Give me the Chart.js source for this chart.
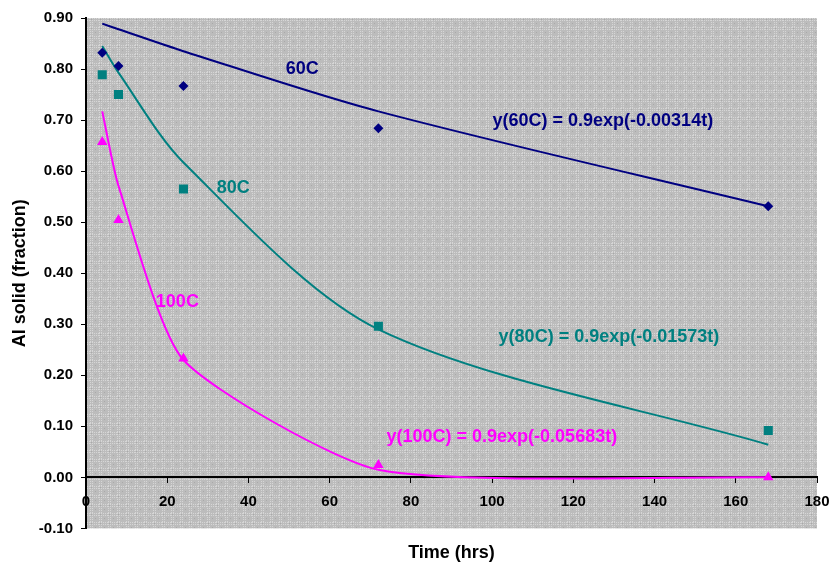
<!DOCTYPE html>
<html>
<head>
<meta charset="utf-8">
<script src="https://cdn.jsdelivr.net/npm/chart.js@4.4.1/dist/chart.umd.min.js"></script>
<style>
  body { margin: 0; background: #fff; }
  #wrap { width: 831px; height: 566px; }
</style>
</head>
<body>
<div id="wrap"><canvas id="alChart"></canvas></div>
<script>
// sampling times (hrs)
var hours = [4, 8, 24, 72, 168];

// measured Al solid fraction
var al60 = [0.832, 0.806, 0.767, 0.684, 0.531];
var al80 = [0.789, 0.750, 0.565, 0.296, 0.092];
var al100 = [0.657, 0.504, 0.233, 0.024, 0.000];

// fitted curves at the same times
var fit60 = [0.889, 0.878, 0.835, 0.717, 0.531];
var fit80 = [0.845, 0.793, 0.617, 0.290, 0.064];
var fit100 = [0.717, 0.571, 0.230, 0.015, 0.000];

var xTicks = [0, 20, 40, 60, 80, 100, 120, 140, 160, 180];
var yTicks = [-0.10, 0.00, 0.10, 0.20, 0.30, 0.40, 0.50, 0.60, 0.70, 0.80, 0.90];

var NAVY = '#000080', TEAL = '#008080', PINK = '#ff00ff';
var FONT = "'Liberation Sans', Arial, sans-serif";

function pts(ys) {
  return hours.map(function (h, i) { return { x: h, y: ys[i] }; });
}

// text labels on the plot, placed in data units
var notes = [
  { text: '60C', x: 49.2, y: 0.800, color: NAVY },
  { text: '80C', x: 32.2, y: 0.567, color: TEAL },
  { text: '100C', x: 17.2, y: 0.343, color: PINK },
  { text: 'y(60C) = 0.9exp(-0.00314t)', x: 100.1, y: 0.699, color: NAVY },
  { text: 'y(80C) = 0.9exp(-0.01573t)', x: 101.6, y: 0.275, color: TEAL },
  { text: 'y(100C) = 0.9exp(-0.05683t)', x: 74.0, y: 0.079, color: PINK }
];

// grey hatched plot area like the old Excel default
function makePattern(ctx) {
  var c = document.createElement('canvas');
  c.width = 9; c.height = 9;
  var p = c.getContext('2d');
  p.fillStyle = '#bcbcbc';
  p.fillRect(0, 0, 9, 9);
  p.fillStyle = '#d6d6d6';
  for (var i = 0; i < 9; i += 2) {
    p.fillRect(i, 0, 1, 1); p.fillRect(i, 2, 1, 1);
    p.fillRect(0, i, 1, 1); p.fillRect(2, i, 1, 1);
  }
  p.fillStyle = '#a9a9a9';
  p.fillRect(1, 1, 1, 1);
  p.fillRect(5, 5, 1, 1);
  return ctx.createPattern(c, 'repeat');
}

var plotBg = {
  id: 'plotBg',
  beforeDraw: function (chart) {
    var a = chart.chartArea, ctx = chart.ctx;
    ctx.save();
    ctx.fillStyle = makePattern(ctx);
    ctx.fillRect(a.left, a.top, a.right - a.left, a.bottom - a.top);
    ctx.restore();
  }
};

var plotNotes = {
  id: 'plotNotes',
  afterDatasetsDraw: function (chart) {
    var ctx = chart.ctx, sx = chart.scales.x, sy = chart.scales.y;
    ctx.save();
    ctx.font = 'bold 18px ' + FONT;
    ctx.textAlign = 'left';
    ctx.textBaseline = 'middle';
    notes.forEach(function (n) {
      ctx.fillStyle = n.color;
      ctx.fillText(n.text, sx.getPixelForValue(n.x), sy.getPixelForValue(n.y));
    });
    ctx.restore();
  }
};

var ctx = document.getElementById('alChart').getContext('2d');
var chart = new Chart(ctx, {
  type: 'scatter',
  data: {
    datasets: [
      { label: '60C', data: pts(al60), pointStyle: 'rectRot', pointRadius: 5,
        backgroundColor: NAVY, borderColor: NAVY, pointBorderWidth: 0 },
      { label: '80C', data: pts(al80), pointStyle: 'rect', pointRadius: 6.4,
        backgroundColor: TEAL, borderColor: TEAL, pointBorderWidth: 0 },
      { label: '100C', data: pts(al100), pointStyle: 'triangle', pointRadius: 6,
        backgroundColor: PINK, borderColor: PINK, pointBorderWidth: 0 },
      { label: 'fit 60C', data: pts(fit60), showLine: true, pointRadius: 0,
        borderColor: NAVY, borderWidth: 2, tension: 0.3 },
      { label: 'fit 80C', data: pts(fit80), showLine: true, pointRadius: 0,
        borderColor: TEAL, borderWidth: 2, tension: 0.3 },
      { label: 'fit 100C', data: pts(fit100), showLine: true, pointRadius: 0,
        borderColor: PINK, borderWidth: 2, tension: 0.2 }
    ]
  },
  options: {
    responsive: true,
    maintainAspectRatio: false,
    animation: false,
    layout: { autoPadding: false, padding: { left: 0, right: 14, top: 18, bottom: 0 } },
    plugins: {
      legend: { display: false },
      tooltip: { enabled: false },
      title: {
        display: true,
        position: 'bottom',
        fullSize: false,
        text: 'Time (hrs)',
        color: '#000',
        font: { family: FONT, size: 18, weight: 'bold' },
        padding: { top: 14, bottom: 2 }
      }
    },
    scales: {
      x: {
        type: 'linear',
        position: { y: 0 },
        min: 0,
        max: 180,
        afterBuildTicks: function (s) { s.ticks = xTicks.map(function (v) { return { value: v }; }); },
        afterFit: function (s) { s.paddingLeft = 0; s.paddingRight = 0; },
        grid: { drawOnChartArea: false, drawTicks: true, tickLength: 5, color: '#000' },
        border: { color: '#000', width: 2 },
        ticks: {
          color: '#000',
          padding: 10,
          maxRotation: 0,
          font: { family: FONT, size: 15, weight: 'bold' }
        }
      },
      y: {
        type: 'linear',
        min: -0.1,
        max: 0.9,
        afterBuildTicks: function (s) { s.ticks = yTicks.map(function (v) { return { value: v }; }); },
        afterFit: function (s) { s.width = 86; s.paddingTop = 0; s.paddingBottom = 0; },
        grid: { drawOnChartArea: false, drawTicks: true, tickLength: 5, color: '#000' },
        border: { color: '#000', width: 2 },
        ticks: {
          color: '#000',
          padding: 8,
          font: { family: FONT, size: 15, weight: 'bold' },
          callback: function (v) { return Number(v).toFixed(2); }
        },
        title: {
          display: true,
          text: 'Al solid (fraction)',
          color: '#000',
          font: { family: FONT, size: 18, weight: 'bold' },
          padding: { top: 9, bottom: 0 }
        }
      }
    }
  },
  plugins: [plotBg, plotNotes]
});
</script>
</body>
</html>
